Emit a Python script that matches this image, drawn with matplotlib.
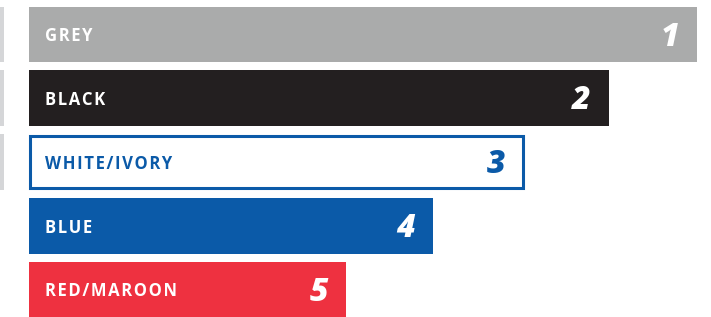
import matplotlib.pyplot as plt

# Ranking of colours (bar length in arbitrary units)
colours = ['GREY', 'BLACK', 'WHITE/IVORY', 'BLUE', 'RED/MAROON']
ranks = ['1', '2', '3', '4', '5']
values = [66.8, 58.0, 49.4, 40.4, 31.7]

# Cut-off bars of the neighbouring panel on the far left
prev_panel = [0.4, 0.4, 0.4]

fill_colors = ['#aaabab', '#231f20', '#ffffff', '#0b5aa8', '#ee3140']
edge_colors = ['#aaabab', '#231f20', '#0b5aa8', '#0b5aa8', '#ee3140']
text_colors = ['#ffffff', '#ffffff', '#0b5aa8', '#ffffff', '#ffffff']

fig = plt.figure(figsize=(7.11, 3.17), dpi=100)
ax = fig.add_axes([0, 0, 1, 1])

y = list(range(len(colours)))
ax.barh(y, values, left=0, height=0.87, color=fill_colors, linewidth=0)

# outlined bar (white/ivory) gets a blue border
for i, (fc, ec) in enumerate(zip(fill_colors, edge_colors)):
    if fc == '#ffffff':
        ax.barh(i, values[i] - 0.15, left=0.15, height=0.82, color='none',
                edgecolor=ec, linewidth=2.2)

ax.barh(y[:len(prev_panel)], prev_panel, left=-2.9, height=0.87,
        color='#d5d6d8', linewidth=0)

for i, (name, rank) in enumerate(zip(colours, ranks)):
    spaced = '\u200a'.join(name)  # letter-spaced caps like the original
    ax.text(1.6, i + 0.03, spaced, color=text_colors[i], fontsize=12,
            fontweight='bold', family=['Open Sans', 'DejaVu Sans'],
            va='center', ha='left')
    ax.text(values[i] - 1.8, i + 0.05, rank, color=text_colors[i],
            fontsize=23, fontweight='heavy', fontstyle='italic',
            family='Open Sans', va='center', ha='right')

ax.set_xlim(-2.9, 68.2)
ax.set_ylim(4.43, -0.54)
ax.axis('off')

fig.savefig('out.png', dpi=100)
